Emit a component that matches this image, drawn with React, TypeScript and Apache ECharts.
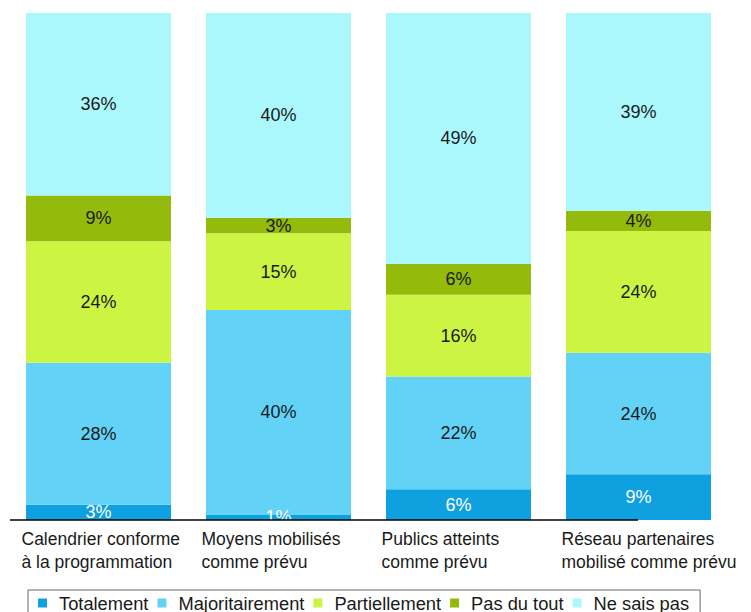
import React, { useEffect, useRef } from "react";
import * as echarts from "echarts";

const categories = [
  "Calendrier conforme\nà la programmation",
  "Moyens mobilisés\ncomme prévu",
  "Publics atteints\ncomme prévu",
  "Réseau partenaires\nmobilisé comme prévu",
];
const seriesNames = ["Totalement", "Majoritairement", "Partiellement", "Pas du tout", "Ne sais pas"];
const totalement = [3, 1, 6, 9];
const majoritairement = [28, 40, 22, 24];
const partiellement = [24, 15, 16, 24];
const pasDuTout = [9, 3, 6, 4];
const neSaisPas = [36, 40, 49, 39];
const colors = ["#0fa0e0", "#62d2f7", "#ccf443", "#94bb0c", "#aaf8fc"];
const labelColors = ["#ffffff", "#1a1a1a", "#1a1a1a", "#1a1a1a", "#1a1a1a"];

const FONT = "'Liberation Sans', Arial, sans-serif";

export default function App() {
  const ref = useRef<HTMLDivElement>(null);
  useEffect(() => {
    document.body.style.margin = "0";
    if (!ref.current) return;
    const chart = echarts.init(ref.current, undefined, { renderer: "svg" });
    const raw = [totalement, majoritairement, partiellement, pasDuTout, neSaisPas];
    const totals = categories.map((_, i) => raw.reduce((s, arr) => s + arr[i], 0));
    const series = raw.map((arr, si) => ({
      name: seriesNames[si],
      type: "bar",
      stack: "all",
      barWidth: 145,
      itemStyle: { color: colors[si] },
      data: arr.map((v, i) => ({ value: (v / totals[i]) * 100, raw: v })),
      label: {
        show: true,
        position: "inside",
        fontFamily: FONT,
        fontSize: 18,
        color: labelColors[si],
        formatter: (p: any) => `${p.data.raw}%`,
      },
    }));
    chart.setOption({
      animation: false,
      textStyle: { fontFamily: FONT },
      grid: { left: 8.5, right: 22.5, top: 13, bottom: 92 },
      xAxis: {
        type: "category",
        data: categories,
        axisLine: { show: false },
        axisTick: { show: false },
        axisLabel: {
          interval: 0,
          align: "left",
          verticalAlign: "top",
          margin: 7.5,
          padding: [0, 0, 0, -77],
          fontFamily: FONT,
          fontSize: 17.5,
          lineHeight: 23,
          color: "#1a1a1a",
          hideOverlap: false,
        },
      },
      yAxis: { type: "value", min: 0, max: 100, show: false, splitLine: { show: false } },
      legend: {
        data: seriesNames,
        left: 28,
        top: 590,
        orient: "horizontal",
        icon: "rect",
        itemWidth: 9,
        itemHeight: 9,
        itemGap: 9,
        padding: [4, 11, 3, 10],
        borderColor: "#666",
        borderWidth: 1,
        textStyle: {
          fontFamily: FONT,
          fontSize: 18.3,
          lineHeight: 18,
          color: "#1a1a1a",
          padding: [0, 0, 0, 7],
        },
      },
      graphic: [
        {
          type: "rect",
          z: 100,
          shape: { x: 10, y: 520.5, width: 550, height: 9 },
          style: { fill: "#ffffff" },
          silent: true,
        },
        {
          type: "line",
          z: 101,
          shape: { x1: 10, y1: 520, x2: 638, y2: 520 },
          style: { stroke: "#000000", lineWidth: 1.5 },
          silent: true,
        },
      ],
      series,
    });
    return () => chart.dispose();
  }, []);
  return <div ref={ref} style={{ width: 751, height: 612 }} />;
}
